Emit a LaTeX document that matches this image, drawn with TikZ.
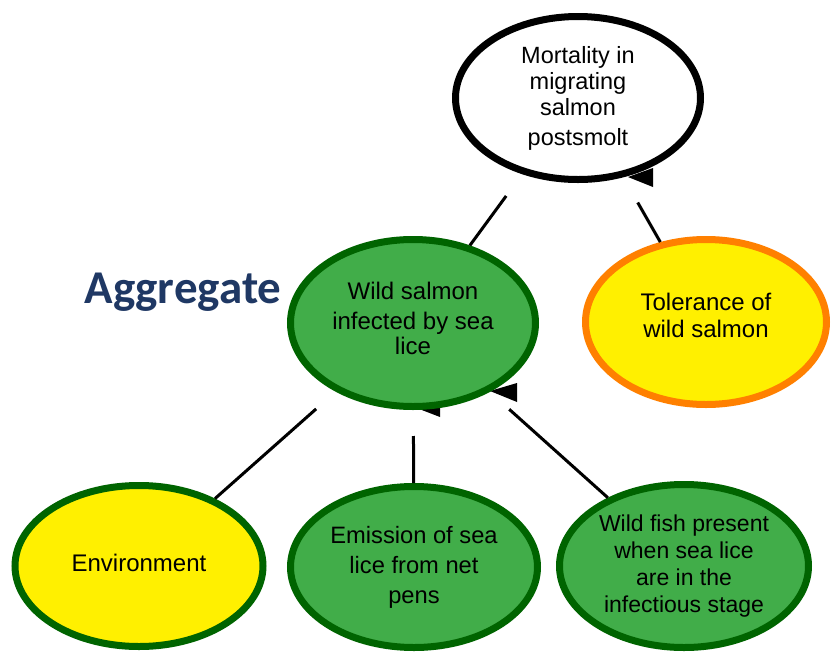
\documentclass[tikz,border=0pt]{standalone}
\usepackage{fontspec}
\setmainfont{Liberation Sans}
\newfontfamily\aggfont{Carlito}
\usepackage{tikz}
\usetikzlibrary{shapes.geometric}
\definecolor{leafgreen}{RGB}{65,173,73}
\definecolor{darkleaf}{RGB}{0,100,0}
\definecolor{sunyellow}{RGB}{255,240,0}
\definecolor{rimorange}{RGB}{255,128,0}
\definecolor{aggblue}{RGB}{31,56,100}

\begin{document}
\begin{tikzpicture}[x=1pt, y=-1pt,
    factor/.style={ellipse, line width=7pt, inner sep=0pt, align=center, font=\fontsize{24}{27}\selectfont},
    outcome/.style={factor, draw=black, fill=white},
    driver/.style={factor, draw=darkleaf, fill=leafgreen},
    hazard/.style={factor, draw=darkleaf, fill=sunyellow},
    buffer/.style={factor, draw=rimorange, fill=sunyellow},
    link/.style={line width=3pt, shorten <=26pt},
    tip/.style={fill=black}
  ]
    \useasboundingbox (0,0) rectangle (831,654);
    % loose arrow tips
    \fill[tip] (628,177) -- (653,168) -- (653,187) -- cycle;
    \fill[tip] (490,391) -- (517,383) -- (517,402) -- cycle;
    \fill[tip] (414,407) -- (440,399) -- (440,417) -- cycle;
    \node[outcome, minimum width=245pt, minimum height=163pt, font=\fontsize{23.5}{26}\selectfont] (mort) at (578,98) {Mortality in\\migrating\\salmon\\[4pt]postsmolt};
    \node[driver, minimum width=245pt, minimum height=167pt, font=\fontsize{24}{25}\selectfont, text depth=10pt] (wild) at (413,323) {Wild salmon\\[5pt]infected by sea\\lice};
    \node[buffer, minimum width=241pt, minimum height=165pt, text depth=14pt] (tol) at (706,322) {Tolerance of\\wild salmon};
    \node[hazard, minimum width=248pt, minimum height=161pt, text depth=6pt] (env) at (139,566) {Environment};
    \node[driver, minimum width=247pt, minimum height=161pt, font=\fontsize{23.7}{30}\selectfont] (emis) at (414,567) {Emission of sea\\lice from net\\pens};
    \node[driver, minimum width=249pt, minimum height=163pt, font=\fontsize{23}{27}\selectfont] (fish) at (684,566) {Wild fish present\\when sea lice\\are in the\\infectious stage};
    \node[font=\aggfont\bfseries\fontsize{47}{50}\selectfont, text=aggblue, inner sep=0pt] (agg) at (183,292) {Aggregate};
    \draw[link, shorten <=27pt] (mort) -- (wild);
    \draw[link, shorten <=29pt] (mort) -- (tol);
    \draw[link] (wild) -- (env);
    \draw[link] (wild) -- (emis);
    \draw[link] (wild) -- (fish);
  \end{tikzpicture}
\end{document}
